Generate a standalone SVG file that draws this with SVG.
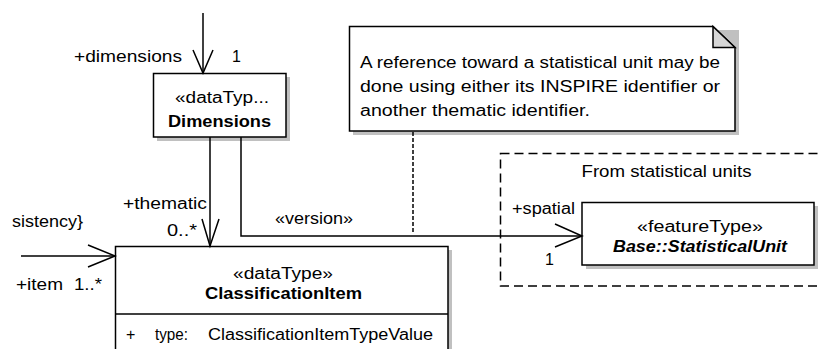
<svg xmlns="http://www.w3.org/2000/svg" width="818" height="349" viewBox="0 0 818 349">
<style>
text{font-family:"Liberation Sans",Arial,sans-serif;font-size:16px;fill:#000}
.b{font-weight:bold}
.bi{font-weight:bold;font-style:italic}
.box{fill:#fff;stroke:#000;stroke-width:1.5}
.sh{fill:#c0c0c0}
.ln{fill:none;stroke:#000;stroke-width:1.5}
.dash{fill:none;stroke:#000;stroke-width:1.5;stroke-dasharray:9 5}
.dot{fill:none;stroke:#000;stroke-width:1.5;stroke-dasharray:4 2}
</style>
<rect width="818" height="349" fill="#fff"/>
<g id="package">
<rect class="dash" x="500.5" y="153.5" width="330" height="132.5"/>
<text x="581.5" y="177" textLength="170" lengthAdjust="spacingAndGlyphs">From statistical units</text>
</g>
<g id="note">
<polygon class="sh" points="353,30 739,30 739,135 353,135"/>
<polygon class="box" points="349.5,26.5 713,26.5 735,47.5 735,131 349.5,131"/>
<polygon points="713,26.5 713,47.5 735,47.5" fill="#d6d6d6" stroke="#000" stroke-width="1.5"/>
<text x="360" y="68" textLength="360" lengthAdjust="spacingAndGlyphs">A reference toward a statistical unit may be</text>
<text x="360" y="92" textLength="360" lengthAdjust="spacingAndGlyphs">done using either its INSPIRE identifier or</text>
<text x="360" y="116" textLength="230" lengthAdjust="spacingAndGlyphs">another thematic identifier.</text>
</g>
<g id="dimensions">
<rect class="sh" x="157" y="77" width="133" height="64"/>
<rect class="box" x="153.5" y="73.5" width="132.5" height="63.5"/>
<text x="175" y="103" textLength="94" lengthAdjust="spacingAndGlyphs">«dataTyp...</text>
<text class="b" x="168" y="127" textLength="103" lengthAdjust="spacingAndGlyphs">Dimensions</text>
</g>
<g id="classificationItem">
<rect class="sh" x="119" y="250" width="333" height="110"/>
<rect class="box" x="115.5" y="246.5" width="332.5" height="110"/>
<line class="ln" x1="115.5" y1="314" x2="448" y2="314"/>
<text x="233" y="279" textLength="100" lengthAdjust="spacingAndGlyphs">«dataType»</text>
<text class="b" x="205" y="299" textLength="157" lengthAdjust="spacingAndGlyphs">ClassificationItem</text>
<text x="126" y="340">+</text>
<text x="155" y="340" textLength="33" lengthAdjust="spacingAndGlyphs">type:</text>
<text x="208" y="340" textLength="225" lengthAdjust="spacingAndGlyphs">ClassificationItemTypeValue</text>
</g>
<g id="statisticalUnit">
<rect class="sh" x="586" y="206" width="232" height="63"/>
<rect class="box" x="582" y="202.5" width="232" height="62.5"/>
<text x="637" y="232" textLength="126" lengthAdjust="spacingAndGlyphs">«featureType»</text>
<text class="bi" x="613" y="252" textLength="174" lengthAdjust="spacingAndGlyphs">Base::StatisticalUnit</text>
</g>
<g id="connectors">
<line class="ln" x1="203" y1="13" x2="203" y2="73"/>
<polyline class="ln" points="193,50 203,73 213,50"/>
<line class="ln" x1="210" y1="137" x2="210" y2="246"/>
<polyline class="ln" points="202,219 210,246 219,219"/>
<polyline class="ln" points="241,137 241,236 582,236"/>
<polyline class="ln" points="555,224 582,236 555,247"/>
<line class="ln" x1="21" y1="256" x2="115" y2="256"/>
<polyline class="ln" points="88,245 115,256 88,267"/>
<line class="dot" x1="413" y1="132" x2="413" y2="232"/>
<text x="74" y="62" textLength="108" lengthAdjust="spacingAndGlyphs">+dimensions</text>
<text x="232" y="62">1</text>
<text x="123" y="209" textLength="84" lengthAdjust="spacingAndGlyphs">+thematic</text>
<text x="167" y="236" textLength="30" lengthAdjust="spacingAndGlyphs">0..*</text>
<text x="275" y="224" textLength="78" lengthAdjust="spacingAndGlyphs">«version»</text>
<text x="12" y="227" textLength="71" lengthAdjust="spacingAndGlyphs">sistency}</text>
<text x="16" y="290" textLength="47" lengthAdjust="spacingAndGlyphs">+item</text>
<text x="74" y="290" textLength="28" lengthAdjust="spacingAndGlyphs">1..*</text>
<text x="512" y="214" textLength="63" lengthAdjust="spacingAndGlyphs">+spatial</text>
<text x="545" y="265">1</text>
</g>
</svg>
